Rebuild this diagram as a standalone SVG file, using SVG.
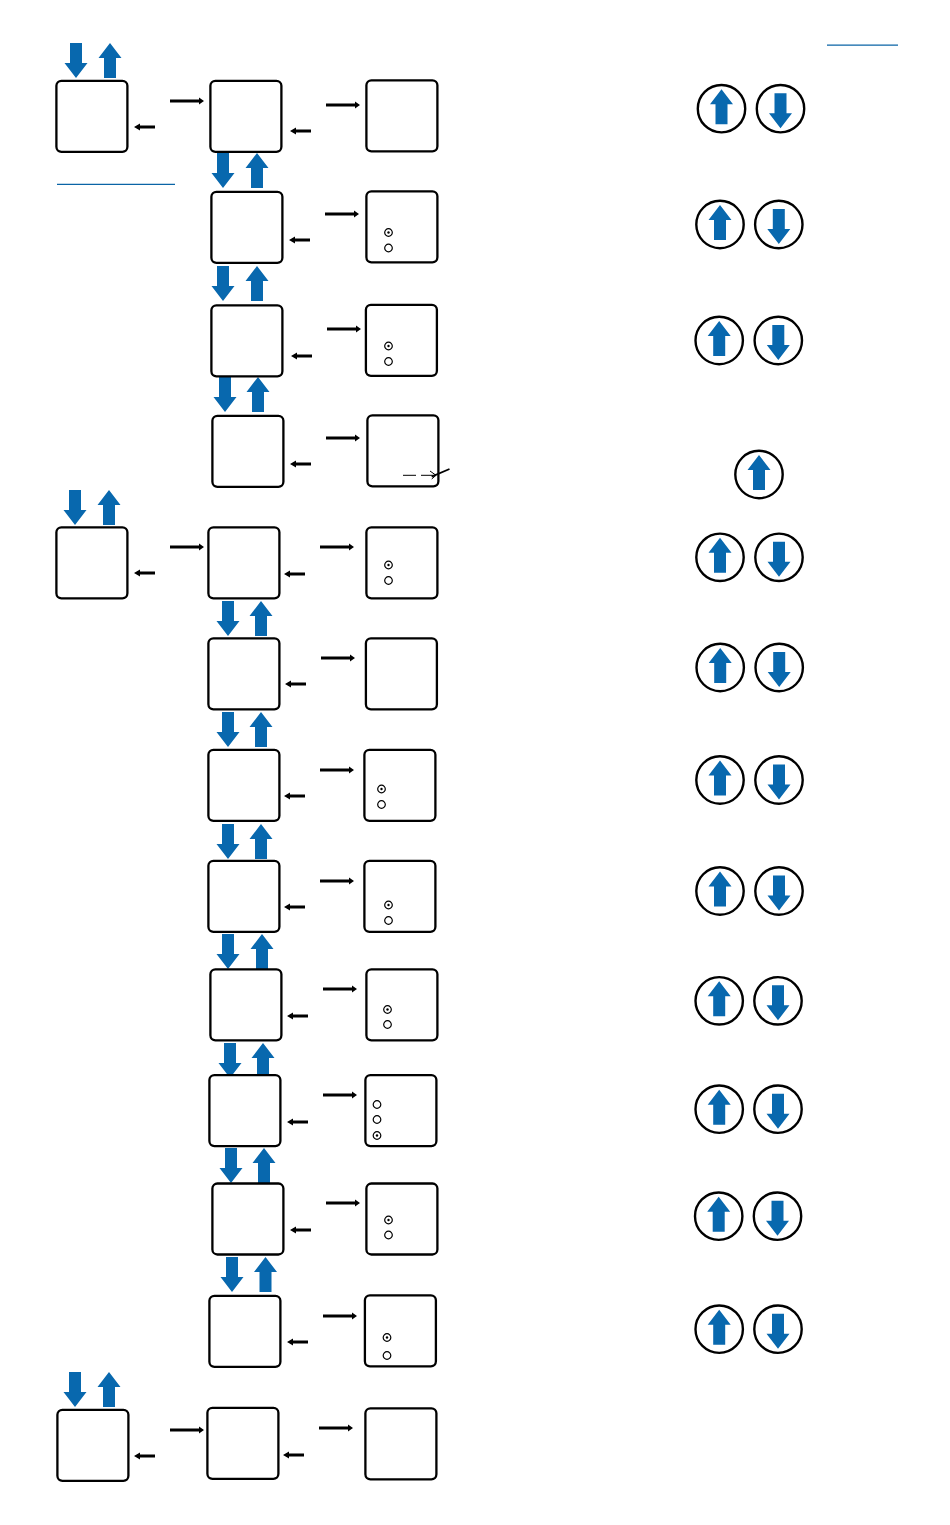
<svg xmlns="http://www.w3.org/2000/svg" width="950" height="1525" viewBox="0 0 950 1525">
<style>
.box{fill:#fff;stroke:#000;stroke-width:2.3}
.blue{fill:#0868ae}
.rule{stroke:#0a64a6;stroke-width:1.3;fill:none}
.btn{fill:#fff;stroke:#000;stroke-width:2.4}
.rad{fill:#fff;stroke:#000;stroke-width:1.2}
.dot{fill:#000}
</style>
<defs>
<rect id="b" class="box" x="0.4" y="-0.2" width="71" height="71" rx="5"/>
<path id="d" class="blue" d="M-6 0H6V20H11.500L0 35L-11.500 20H-6Z"/>
<path id="u" class="blue" d="M-6 35H6V15H11.500L0 0L-11.500 15H-6Z"/>
<path id="r" d="M0 -1.400H29V-3.500L34 0L29 3.500V1.400H0Z"/>
<path id="l" d="M21 -1.400H6V-3.500L0 0L6 3.500V1.400H21Z"/>
<g id="bu"><circle class="btn" r="23.700"/><use href="#u" y="-19.500"/></g>
<g id="bd"><circle class="btn" r="23.700"/><use href="#d" y="-15.500"/></g>
<g id="on"><circle class="rad" r="3.800"/><circle class="dot" r="1.200"/></g>
<circle id="off" class="rad" r="3.800"/>
</defs>
<g id="connectors">
<path class="rule" d="M57 184.300H175M827 45.200H898"/>
<use href="#r" x="170" y="101"/><use href="#r" x="326" y="105"/><use href="#r" x="325" y="214"/><use href="#r" x="327" y="329"/><use href="#r" x="326" y="438"/><use href="#r" x="170" y="547"/><use href="#r" x="320" y="547"/><use href="#r" x="321" y="658"/><use href="#r" x="320" y="770"/><use href="#r" x="320" y="881"/><use href="#r" x="323" y="989"/><use href="#r" x="323" y="1095"/><use href="#r" x="326" y="1203"/><use href="#r" x="323" y="1316"/><use href="#r" x="170" y="1430"/><use href="#r" x="319" y="1428"/>
<use href="#l" x="134" y="127"/><use href="#l" x="290" y="131"/><use href="#l" x="289" y="240"/><use href="#l" x="291" y="356"/><use href="#l" x="290" y="464"/><use href="#l" x="134" y="573"/><use href="#l" x="284" y="574"/><use href="#l" x="285" y="684"/><use href="#l" x="284" y="796"/><use href="#l" x="284" y="907"/><use href="#l" x="287" y="1016"/><use href="#l" x="287" y="1122"/><use href="#l" x="290" y="1230"/><use href="#l" x="287" y="1342"/><use href="#l" x="134" y="1456"/><use href="#l" x="283" y="1455"/>
</g>
<g id="flow-arrows">
<use href="#d" x="76" y="43"/><use href="#u" x="110" y="43"/>
<use href="#d" x="223" y="153"/><use href="#u" x="257" y="153"/>
<use href="#d" x="223" y="266"/><use href="#u" x="257" y="266"/>
<use href="#d" x="225" y="377"/><use href="#u" x="258" y="377"/>
<use href="#d" x="75" y="490"/><use href="#u" x="109" y="490"/>
<use href="#d" x="228" y="601"/><use href="#u" x="261" y="601"/>
<use href="#d" x="228" y="712"/><use href="#u" x="261" y="712"/>
<use href="#d" x="228" y="824"/><use href="#u" x="261" y="824"/>
<use href="#d" x="228" y="934"/><use href="#u" x="262" y="934"/>
<use href="#d" x="230" y="1043"/><use href="#u" x="263" y="1043"/>
<use href="#d" x="231" y="1148"/><use href="#u" x="264" y="1148"/>
<use href="#d" x="232" y="1257"/><use href="#u" x="265.500" y="1257"/>
<use href="#d" x="75" y="1372"/><use href="#u" x="109" y="1372"/>
</g>
<g id="left-1"><use href="#b" x="56" y="81"/></g>
<g id="left-2"><use href="#b" x="56" y="527.500"/></g>
<g id="left-3"><use href="#b" x="57" y="1410"/></g>
<g id="mid-1"><use href="#b" x="210" y="81"/></g>
<g id="mid-2"><use href="#b" x="211" y="192"/></g>
<g id="mid-3"><use href="#b" x="211" y="305.500"/></g>
<g id="mid-4"><use href="#b" x="212" y="416"/></g>
<g id="mid-5"><use href="#b" x="208" y="527.500"/></g>
<g id="mid-6"><use href="#b" x="208" y="638.500"/></g>
<g id="mid-7"><use href="#b" x="208" y="750"/></g>
<g id="mid-8"><use href="#b" x="208" y="861"/></g>
<g id="mid-9"><use href="#b" x="210" y="969.500"/></g>
<g id="mid-10"><use href="#b" x="209" y="1075.300"/></g>
<g id="mid-11"><use href="#b" x="212" y="1183.700"/></g>
<g id="mid-12"><use href="#b" x="209" y="1296"/></g>
<g id="mid-13"><use href="#b" x="207" y="1408"/></g>
<g id="right-1"><use href="#b" x="366" y="80.500"/></g>
<g id="right-2"><use href="#b" x="366" y="191.500"/><use href="#on" x="388.500" y="232.500"/><use href="#off" x="388.500" y="248"/></g>
<g id="right-3"><use href="#b" x="365.500" y="305"/><use href="#on" x="388.500" y="346"/><use href="#off" x="388.500" y="361.500"/></g>
<g id="right-4"><use href="#b" x="367" y="415.500"/><path d="M403 475.300H416M421 475.300H436M430 471L436 475.300L431.700 479" fill="none" stroke="#000" stroke-width="1"/><path d="M431.700 476.700L449.500 469" fill="none" stroke="#000" stroke-width="1.800"/></g>
<g id="right-5"><use href="#b" x="366" y="527.500"/><use href="#on" x="388.500" y="565"/><use href="#off" x="388.500" y="580.500"/></g>
<g id="right-6"><use href="#b" x="365.500" y="638.500"/></g>
<g id="right-7"><use href="#b" x="364" y="750"/><use href="#on" x="381.500" y="789"/><use href="#off" x="381.500" y="804.500"/></g>
<g id="right-8"><use href="#b" x="364" y="861"/><use href="#on" x="388.500" y="905"/><use href="#off" x="388.500" y="920.500"/></g>
<g id="right-9"><use href="#b" x="366" y="969.500"/><use href="#on" x="387.500" y="1009.500"/><use href="#off" x="387.500" y="1024.500"/></g>
<g id="right-10"><use href="#b" x="365" y="1075.300"/><use href="#off" x="377" y="1104.500"/><use href="#off" x="377" y="1119.500"/><use href="#on" x="377" y="1135.500"/></g>
<g id="right-11"><use href="#b" x="366" y="1183.700"/><use href="#on" x="388.500" y="1220"/><use href="#off" x="388.500" y="1235"/></g>
<g id="right-12"><use href="#b" x="364.500" y="1295.500"/><use href="#on" x="387" y="1337.500"/><use href="#off" x="387" y="1355.500"/></g>
<g id="right-13"><use href="#b" x="365" y="1408.500"/></g>
<g id="buttons">
<use href="#bu" x="721.500" y="108.700"/><use href="#bd" x="780.500" y="108.700"/>
<use href="#bu" x="720" y="224.500"/><use href="#bd" x="778.800" y="224.500"/>
<use href="#bu" x="719.200" y="340.500"/><use href="#bd" x="778.300" y="340.500"/>
<use href="#bu" x="759" y="474.500"/>
<use href="#bu" x="720" y="557.300"/><use href="#bd" x="779" y="557.300"/>
<use href="#bu" x="720.200" y="667.500"/><use href="#bd" x="779.200" y="667.500"/>
<use href="#bu" x="720" y="780"/><use href="#bd" x="779" y="780"/>
<use href="#bu" x="720" y="891"/><use href="#bd" x="779" y="891"/>
<use href="#bu" x="719.200" y="1000.800"/><use href="#bd" x="778" y="1000.800"/>
<use href="#bu" x="719.200" y="1109.200"/><use href="#bd" x="778" y="1109.200"/>
<use href="#bu" x="718.700" y="1216.200"/><use href="#bd" x="777.500" y="1216.200"/>
<use href="#bu" x="719.200" y="1329.200"/><use href="#bd" x="778" y="1329.200"/>
</g>
</svg>
